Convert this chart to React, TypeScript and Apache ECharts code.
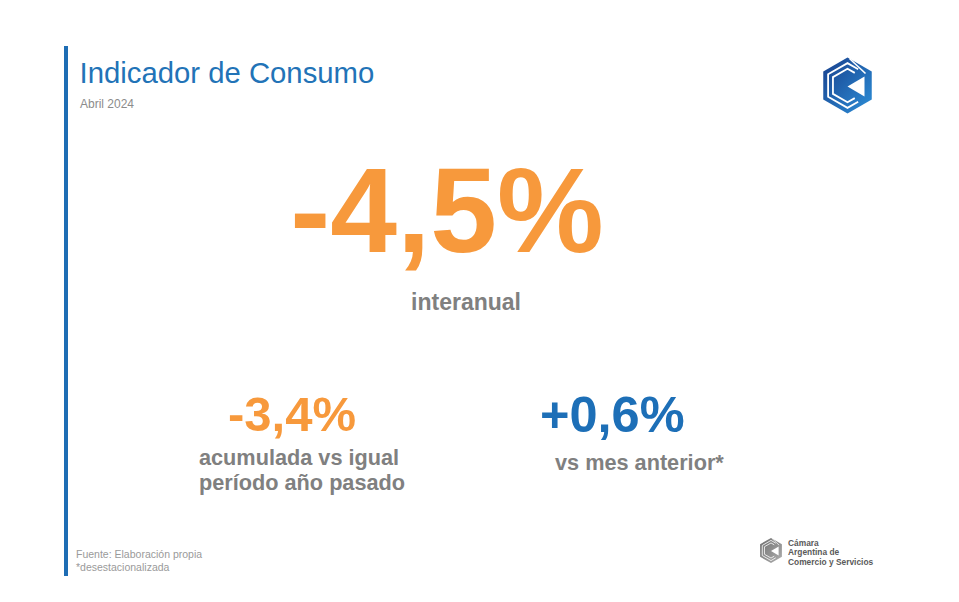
import React, { useEffect, useRef } from "react";
import * as echarts from "echarts";

const titleTexts = ["Indicador de Consumo", "Abril 2024"];
const indicatorValues = ["-4,5%", "-3,4%", "+0,6%"];
const indicatorLabels = ["interanual", "acumulada vs igual\nperíodo año pasado", "vs mes anterior*"];
const footerTexts = ["Fuente: Elaboración propia", "*desestacionalizada"];
const brandLines = ["Cámara", "Argentina de", "Comercio y Servicios"];

const FONT = "'Liberation Sans', Arial, Helvetica, sans-serif";
const ORANGE = "#F7993C";
const BLUE = "#1D6FB7";
const GRAY = "#808080";

function logo(cx: number, cy: number, s: number, c0: string, c1: string): any {
  const R = 28;
  const w = 24.25;
  const hex = [[0, -R], [w, -R / 2], [w, R / 2], [0, R], [-w, R / 2], [-w, -R / 2]];
  const cStripe = (k: number, ext: number) => [
    [w * k * ext, -R * k + (R / 2) * k * ext],
    [0, -R * k],
    [-w * k, -R * k / 2],
    [-w * k, R * k / 2],
    [0, R * k],
    [w * k * ext, R * k - (R / 2) * k * ext],
  ];
  return {
    type: "group",
    x: cx,
    y: cy,
    scaleX: s,
    scaleY: s,
    children: [
      {
        type: "polygon",
        shape: { points: hex },
        style: {
          fill: new echarts.graphic.LinearGradient(0, 0, 1, 1, [
            { offset: 0, color: c0 },
            { offset: 1, color: c1 },
          ]),
        },
      },
      { type: "polyline", shape: { points: cStripe(0.8, 0.55) }, style: { stroke: "#fff", lineWidth: 1.8, fill: null } },
      { type: "polyline", shape: { points: cStripe(0.6, 0.5) }, style: { stroke: "#fff", lineWidth: 1.8, fill: null } },
      { type: "line", shape: { x1: 2, y1: -27, x2: 18, y2: -12 }, style: { stroke: "#fff", lineWidth: 1.6 } },
      { type: "polygon", shape: { points: [[0, 1], [17, -9], [17, 11]] }, style: { fill: "#fff" } },
    ],
  };
}

export default function App() {
  const ref = useRef<HTMLDivElement>(null);
  useEffect(() => {
    if (!ref.current) return;
    const chart = echarts.init(ref.current, null, { renderer: "svg" });
    const text = (x: number, y: number, t: string, st: any, extra: any = {}) => ({
      type: "text",
      x,
      y,
      ...extra,
      style: { text: t, fontFamily: FONT, verticalAlign: "middle", align: "left", ...st },
    });
    chart.setOption({
      animation: false,
      backgroundColor: "#ffffff",
      graphic: [
        { type: "rect", shape: { x: 64, y: 46, width: 4, height: 530 }, style: { fill: "#1E6DB4" } },
        text(79.5, 72, titleTexts[0], { fontSize: 29.3, fill: "#2273B7" }),
        text(80, 104, titleTexts[1], { fontSize: 12, fill: "#8C8C8C" }),
        text(447, 210, indicatorValues[0], { fontSize: 120, fontWeight: "bold", fill: ORANGE, align: "center" }),
        text(466, 302, indicatorLabels[0], { fontSize: 23, fontWeight: "bold", fill: GRAY, align: "center" }),
        text(228, 414, indicatorValues[1], { fontSize: 49, fontWeight: "bold", fill: ORANGE }),
        text(199, 470, indicatorLabels[1], { fontSize: 21.7, fontWeight: "bold", fill: GRAY, lineHeight: 24.5 }),
        text(540, 414, indicatorValues[2], { fontSize: 50.5, fontWeight: "bold", fill: BLUE }),
        text(555, 462, indicatorLabels[2], { fontSize: 21.7, fontWeight: "bold", fill: GRAY }),
        text(76, 554, footerTexts[0], { fontSize: 10.5, fill: "#9A9A9A" }),
        text(76, 567, footerTexts[1], { fontSize: 10.5, fill: "#9A9A9A" }),
        logo(847.5, 85.5, 1, "#183F8C", "#2C8FD8"),
        logo(771, 550.5, 0.45, "#6E6E6E", "#B0B0B0"),
        text(788, 552, brandLines.join("\n"), { fontSize: 8.4, fontWeight: "bold", fill: "#5A5A5A", lineHeight: 9.5 }),
      ],
    });
    return () => chart.dispose();
  }, []);
  return <div ref={ref} style={{ position: "fixed", left: 0, top: 0, width: 959, height: 602, background: "#fff" }} />;
}
